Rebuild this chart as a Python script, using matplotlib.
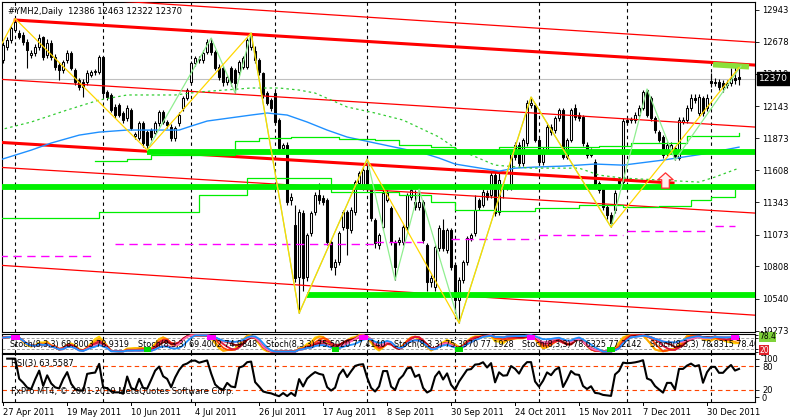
import matplotlib
matplotlib.use("Agg")
import matplotlib.pyplot as plt
from matplotlib.path import Path
import numpy as np
import pandas as pd

# ---- daily bars (#YMH2) ----
opens = [12526, 12635, 12693, 12776, 12751, 12734, 12676, 12568, 12585, 12635,
         12718, 12568, 12668, 12551, 12485, 12443, 12526, 12585, 12443, 12360,
         12343, 12343, 12401, 12426, 12426, 12551, 12260, 12235, 12135, 12151,
         12085, 12043, 12110, 11893, 11876, 12001, 11926, 11943, 11918, 12001,
         12093, 12010, 11968, 11876, 12001, 12126, 12210, 12343, 12501, 12526,
         12526, 12593, 12668, 12593, 12468, 12460, 12343, 12460, 12443, 12426,
         12468, 12468, 12635, 12600, 12526, 12418, 12251, 12193, 12251, 12026,
         11793, 11818, 11360, 11152, 10719, 11252, 10719, 11085, 11260, 11402,
         11377, 11360, 11010, 10802, 10843, 11135, 11260, 11110, 11260, 11502,
         11468, 11610, 11468, 11193, 10985, 11135, 11360, 11293, 11010, 11010,
         11010, 11135, 11385, 11343, 11302, 11343, 10985, 10677, 10635, 10960,
         11110, 10943, 11110, 10819, 10527, 10694, 10843, 11043, 11085, 11360,
         11318, 11418, 11402, 11568, 11260, 11485, 11460, 11460, 11818, 11818,
         11668, 11835, 12151, 12151, 11860, 11677, 11777, 11968, 11943, 12043,
         12110, 11718, 11860, 12126, 12068, 12051, 11818, 11735, 11677, 11502,
         11460, 11302, 11235, 11277, 11527, 11510, 12026, 12026, 12026, 12068,
         12126, 12276, 12210, 12043, 11926, 11885, 11751, 11777, 11793, 11710,
         12010, 12026, 12126, 12210, 12085, 12210, 12126, 12351, 12343, 12343,
         12335, 12318, 12335, 12376, 12386]
highs = [12680, 12720, 12810, 12870, 12780, 12760, 12700, 12610, 12660, 12740,
         12730, 12700, 12690, 12580, 12510, 12530, 12610, 12600, 12460, 12380,
         12370, 12440, 12445, 12450, 12570, 12560, 12280, 12250, 12160, 12170,
         12100, 12150, 12130, 11930, 12020, 12020, 11940, 11960, 12020, 12110,
         12110, 12030, 11990, 11980, 12090, 12230, 12295, 12520, 12560, 12560,
         12610, 12700, 12709, 12610, 12490, 12480, 12400, 12480, 12460, 12530,
         12560, 12710, 12751, 12640, 12540, 12430, 12270, 12210, 12270, 12040,
         11835, 11840, 11420, 11318, 11290, 11280, 11090, 11270, 11430, 11500,
         11400, 11380, 11030, 10870, 11100, 11280, 11280, 11300, 11530, 11600,
         11640, 11701, 11490, 11210, 11090, 11440, 11440, 11310, 11030, 11050,
         11150, 11420, 11470, 11440, 11450, 11360, 11000, 10740, 10990, 11150,
         11200, 11130, 11130, 10840, 10720, 10860, 11060, 11090, 11400, 11380,
         11450, 11440, 11590, 11600, 11600, 11510, 11490, 11780, 11840, 11840,
         11880, 12190, 12218, 12170, 11880, 11800, 11990, 11990, 12060, 12130,
         12130, 11880, 12130, 12160, 12090, 12070, 11840, 11790, 11700, 11520,
         11480, 11320, 11260, 11440, 11550, 12040, 12050, 12050, 12090, 12150,
         12280, 12285, 12230, 12060, 11940, 11900, 11840, 11840, 11810, 12050,
         12050, 12150, 12240, 12240, 12240, 12230, 12240, 12420, 12380, 12370,
         12360, 12360, 12460, 12470, 12463]
lows = [12500, 12610, 12670, 12760, 12700, 12650, 12460, 12540, 12560, 12610,
        12530, 12540, 12530, 12440, 12360, 12420, 12500, 12440, 12320, 12280,
        12220, 12320, 12385, 12405, 12410, 12230, 12190, 12090, 12040, 12050,
        12000, 12020, 11940, 11870, 11860, 11800, 11777, 11860, 11900, 11980,
        11990, 11960, 11850, 11850, 11980, 12100, 12190, 12330, 12480, 12500,
        12505, 12575, 12570, 12440, 12360, 12310, 12320, 12310, 12251, 12400,
        12450, 12450, 12610, 12500, 12400, 12210, 12150, 12100, 11990, 11770,
        11770, 11320, 11320, 10680, 10419, 10600, 10690, 11060, 11240, 11330,
        11320, 10990, 10780, 10740, 10820, 11110, 10900, 11090, 11240, 11480,
        11440, 11440, 11190, 10960, 10950, 11110, 11340, 10990, 10694, 10990,
        10990, 11110, 11360, 11280, 11280, 11000, 10600, 10640, 10600, 10940,
        10940, 10920, 10780, 10420, 10336, 10670, 10820, 11020, 11060, 11280,
        11300, 11360, 11380, 11230, 11240, 11380, 11440, 11440, 11690, 11640,
        11640, 11810, 12130, 11840, 11650, 11650, 11760, 11900, 11920, 12020,
        11700, 11700, 11840, 12030, 12020, 11810, 11710, 11720, 11460, 11420,
        11280, 11200, 11135, 11250, 11480, 11490, 11990, 12000, 12000, 12050,
        12110, 12050, 12020, 11920, 11840, 11710, 11730, 11760, 11693, 11690,
        11990, 12000, 12100, 12170, 12060, 12060, 12100, 12300, 12310, 12280,
        12260, 12290, 12310, 12330, 12322]
closes = [12651, 12693, 12793, 12840, 12718, 12676, 12610, 12585, 12635, 12709,
          12551, 12668, 12551, 12468, 12443, 12510, 12585, 12460, 12343, 12301,
          12301, 12418, 12426, 12430, 12551, 12251, 12218, 12110, 12068, 12068,
          12026, 12126, 11960, 11910, 12001, 11835, 11818, 11885, 12001, 12093,
          12010, 11985, 11876, 11960, 12068, 12210, 12276, 12501, 12543, 12530,
          12585, 12676, 12593, 12460, 12385, 12343, 12385, 12343, 12335, 12510,
          12543, 12693, 12734, 12526, 12426, 12235, 12168, 12126, 12010, 11793,
          11818, 11343, 11385, 10710, 11260, 10710, 11068, 11252, 11402, 11360,
          11343, 11010, 10802, 10843, 11085, 11260, 11127, 11277, 11510, 11585,
          11610, 11468, 11210, 11002, 11068, 11418, 11418, 11010, 10802, 11027,
          11135, 11402, 11443, 11302, 11343, 11027, 10677, 10710, 10968, 11127,
          10960, 11110, 10802, 10527, 10694, 10843, 11043, 11068, 11277, 11302,
          11427, 11385, 11568, 11252, 11527, 11460, 11468, 11751, 11718, 11668,
          11860, 12168, 12168, 11860, 11677, 11777, 11968, 11926, 12043, 12110,
          11718, 11860, 12110, 12051, 12043, 11835, 11735, 11760, 11485, 11443,
          11302, 11235, 11168, 11418, 11502, 12018, 12010, 12030, 12068, 12126,
          12260, 12068, 12043, 11943, 11860, 11735, 11818, 11818, 11710, 12026,
          12026, 12126, 12210, 12193, 12218, 12085, 12210, 12335, 12335, 12301,
          12301, 12335, 12376, 12360, 12370]

dates = pd.bdate_range("2011-04-27", "2012-01-31")
dates = dates[dates != pd.Timestamp("2011-12-26")][:len(closes)]

price_ticks = [12943, 12678, 12410, 12143, 11873, 11608, 11343, 11073, 10808, 10540, 10273]

# zigzag turning points (bar index, price)
zigzag_main = [(-1, 12620), (3, 12870), (36, 11777), (62, 12751), (74, 10419),
               (91, 11701), (114, 10336), (132, 12218), (152, 11135), (184, 12463)]
zigzag_fast = [(36, 11777), (52, 12709), (58, 12251), (62, 12751), (74, 10419),
               (91, 11701), (98, 10694), (104, 11450), (114, 10336), (132, 12218),
               (152, 11135), (161, 12285), (168, 11693), (184.5, 12476)]

# channel lines: (start idx, start price, end idx, end price)
red_thin = [(-1, 13081, 188, 12674), (-1, 12366, 188, 11968),
            (-1, 11633, 188, 11252), (-1, 10818, 188, 10402)]
red_thick = [(3, 12859, 188, 12484), (-1, 11841, 167.5, 11502)]
green_levels = [(36, 188, 11764), (-1, 188, 11473), (76, 188, 10573)]
lime_short = (177.5, 12488, 186.5, 12470)

ma_blue = [(-1, 11693), (7, 11776), (12, 11835), (19, 11901), (24, 11926), (31, 11943),
           (44, 11943), (47, 11976), (51, 12018), (62, 12068), (66, 12085), (71, 12068),
           (76, 12010), (81, 11943), (86, 11885), (93, 11835), (99, 11793), (105, 11751),
           (109, 11710), (113, 11660), (124, 11601), (128, 11626), (133, 11635),
           (140, 11643), (148, 11660), (155, 11651), (165, 11693), (175, 11743), (184, 11801)]
ma_dash = [(-1, 11943), (7, 12010), (16, 12110), (24, 12193), (31, 12235), (43, 12235),
           (49, 12260), (62, 12293), (69, 12293), (74, 12276), (78, 12251), (86, 12135),
           (93, 12085), (100, 12026), (109, 11885), (113, 11793), (123, 11651), (132, 11626),
           (144, 11626), (149, 11568), (155, 11543), (174, 11510), (178, 11552), (184, 11626)]
band_up = [(23, 11685), (31, 11701), (37, 11735), (58, 11851), (64, 11876), (72, 11885),
           (84, 11868), (93, 11860), (99, 11818), (107, 11801), (113, 11776), (124, 11801),
           (136, 11801), (149, 11810), (157, 11835), (171, 11893), (184, 11918)]
band_low = [(-1, 11210), (24, 11260), (49, 11402), (61, 11543), (72, 11543),
            (82, 11427), (93, 11427), (99, 11402), (107, 11343), (113, 11277),
            (123, 11268), (133, 11293), (144, 11318), (155, 11302), (164, 11310),
            (172, 11360), (177, 11385), (183, 11443)]
magenta_steps = [(-1, 23, 10893), (28, 93, 10993), (93, 105, 11010), (112, 133, 11035),
                 (134, 155, 11068), (156, 176, 11102), (178, 183, 11143)]
arrow_pt = (165.5, 11530)

tops = [3, 52, 90, 132, 183]
bottoms = [36, 83, 114, 152]

stoch_labels = ["Stoch(8,3,3) 68.8003 78.9319", "Stoch(8,3,3) 69.4002 74.9848",
                "Stoch(8,3,3) 75.5020 77.4140", "Stoch(8,3,3) 75.3970 77.1928",
                "Stoch(8,3,3) 78.6325 77.2142", "Stoch(8,3,3) 78.8315 78.4031"]
rsi_label = "RSI(3) 63.5587"

# ---- indicators derived from the bars ----
o = np.array(opens, float); h = np.array(highs, float)
l = np.array(lows, float); c = np.array(closes, float)
idx = np.arange(len(c))

delta = np.diff(c, prepend=np.nan)
up = pd.Series(np.clip(delta, 0, None)).ewm(alpha=1/3, adjust=False).mean()
dn = pd.Series(np.clip(-delta, 0, None)).ewm(alpha=1/3, adjust=False).mean()
rsi = (100 * up / (up + dn)).values

def stoch(k, sm):
    hh = pd.Series(h).rolling(k, min_periods=1).max()
    ll = pd.Series(l).rolling(k, min_periods=1).min()
    kk = 100 * (pd.Series(c) - ll) / (hh - ll)
    return kk.rolling(sm, min_periods=1).mean().values

# ---- figure ----
W, H = 790, 418
fig = plt.figure(figsize=(W / 100, H / 100), dpi=100)
plt.rcParams['font.family'] = ['DejaVu Sans']
L, R = 2 / W, 755 / W
ax = fig.add_axes([L, 1 - 332 / H, R - L, 330 / H])
axs = fig.add_axes([L, 1 - 353 / H, R - L, 19 / H])
axr = fig.add_axes([L, 1 - 402 / H, R - L, 48 / H])
xlim = (-0.3, 188)
fs = 6

for a in (ax, axs, axr):
    a.set_xlim(*xlim)
    a.set_xticks([])
    for s in a.spines.values():
        s.set_linewidth(0.8)
    a.yaxis.tick_right()
    a.tick_params(axis='y', length=3, width=0.6, labelsize=fs, pad=2)

# month separators
months = pd.Series(dates.month)
seps = idx[(months != months.shift()).values][1:]
for a in (ax, axs, axr):
    for s in seps:
        a.axvline(s, color='black', lw=0.8, ls=(0, (3, 3)), zorder=1)

# candles
up_m = c >= o
ax.vlines(idx, l, h, color='black', lw=0.8, zorder=3)
ax.bar(idx, np.abs(c - o) + 4, bottom=np.minimum(o, c) - 2, width=0.65,
       color=np.where(up_m, 'white', 'black'), edgecolor='black', lw=0.75, zorder=4)

ax.axhline(c[-1], color='#C0C0C0', lw=0.8, zorder=2)

# objects
for x0, y0, x1, y1 in red_thin:
    ax.plot([x0, x1], [y0, y1], color='#FF0000', lw=0.9, zorder=5)
for x0, y0, x1, y1 in red_thick:
    ax.plot([x0, x1], [y0, y1], color='#FF0000', lw=2.2, zorder=5)
for x0, x1, y in green_levels:
    ax.plot([x0, x1], [y, y], color='#00F000', lw=4.2, solid_capstyle='butt', zorder=6)
ax.plot(lime_short[::2], lime_short[1::2], color='#8BE03A', lw=4, solid_capstyle='butt', zorder=6)

bx, by = zip(*ma_blue)
ax.plot(bx, by, color='#1E90FF', lw=1.0, zorder=5)
dx, dy = zip(*ma_dash)
ax.plot(dx, dy, color='#32CD32', lw=0.9, ls=(0, (2, 2.5)), zorder=5)
ux, uy = zip(*band_up)
ax.plot(ux, uy, color='#00EE00', lw=0.9, drawstyle='steps-post', zorder=5)
lx, ly = zip(*band_low)
ax.plot(lx, ly, color='#00EE00', lw=0.9, drawstyle='steps-post', zorder=5)
for x0, x1, y in magenta_steps:
    ax.plot([x0, x1], [y, y], color='#FF00FF', lw=1.0, ls=(0, (6, 4)), zorder=5)

zx, zy = zip(*zigzag_fast)
ax.plot(zx, zy, color='#90EE90', lw=0.9, zorder=6)
zx, zy = zip(*zigzag_main)
ax.plot(zx, zy, color='#FFD700', lw=0.9, zorder=6)

arrow = Path([(-0.5, -1), (0.5, -1), (0.5, 0.1), (1, 0.1), (0, 1), (-1, 0.1), (-0.5, 0.1), (-0.5, -1)],
             [1, 2, 2, 2, 2, 2, 2, 79])
ax.plot([arrow_pt[0]], [arrow_pt[1]], marker=arrow, ms=11, mfc='#FFF0F0', mec='#FF3030', mew=0.9, zorder=7)

ax.set_ylim(10262, 13009)
ax.set_yticks(price_ticks)
ax.set_yticklabels([str(t) for t in price_ticks])
ax.annotate(f"{int(c[-1])}", xy=(1.0, c[-1]), xycoords=('axes fraction', 'data'),
            xytext=(3, 0), textcoords='offset points', va='center', ha='left',
            fontsize=fs + 0.6, color='white',
            bbox=dict(boxstyle='square,pad=0.2', fc='black', ec='black'))
ax.text(0.008, 0.985, "#YMH2,Daily  12386 12463 12322 12370", transform=ax.transAxes,
        fontsize=fs, va='top', ha='left')

# stochastic panel
st_cols = ['#FFD700', '#FFA500', '#FF4500', '#DC143C', '#8B0000', '#FF69B4', '#1E90FF']
for k, col in zip([5, 6, 8, 10, 13, 16, 21], st_cols):
    axs.plot(idx, stoch(k, 3), color=col, lw=1.3, zorder=3)
for lev in (20, 80):
    axs.axhline(lev, color='#A0A0A0', lw=0.7, ls=(0, (3, 2)), zorder=2)
for t in tops:
    axs.bar(t, 30, bottom=72, width=2.2, color='#FF00FF', zorder=4)
for b in bottoms:
    axs.bar(b, 30, bottom=-2, width=1.8, color='#00DD00', zorder=4)
axs.set_ylim(-5, 105)
for j, txt in enumerate(stoch_labels):
    axs.text(8 / 753 + j * 128 / 753, 0.45, txt, transform=axs.transAxes, fontsize=5.8,
             va='center', ha='left', zorder=6, clip_on=True)
axs.set_yticks([100, 80, 20, 0])
axs.set_yticklabels(['100', '80', '20', '0'], fontsize=fs - 0.5)
axs.tick_params(axis='y', length=2, pad=1)
axs.annotate("78.4", xy=(1.0, 80), xycoords=('axes fraction', 'data'), xytext=(3, 1),
             textcoords='offset points', va='center', ha='left', fontsize=fs - 0.5, color='black',
             bbox=dict(boxstyle='square,pad=0.05', fc='#7FD23A', ec='none'), annotation_clip=False)
axs.annotate("20", xy=(1.0, 20), xycoords=('axes fraction', 'data'), xytext=(3, -1),
             textcoords='offset points', va='center', ha='left', fontsize=fs - 0.5, color='white',
             bbox=dict(boxstyle='square,pad=0.05', fc='#E0202A', ec='none'), annotation_clip=False)

# RSI panel
axr.plot(idx, rsi, color='black', lw=1.5, zorder=3)
for lev in (20, 80):
    axr.axhline(lev, color='#FF4500', lw=0.8, ls=(0, (4, 3)), zorder=2)
axr.set_ylim(-12, 112)
axr.set_yticks([100, 80, 20, 0])
axr.set_yticklabels(['100', '80', '20', '0'])
axr.text(0.012, 0.80, rsi_label, transform=axr.transAxes, fontsize=fs, va='center')
axr.text(0.012, 0.22, "FxPro MT4, \u00a9 2001-2010 MetaQuotes Software Corp.", transform=axr.transAxes,
         fontsize=fs, va='center')

# date axis below RSI panel
for i in range(0, len(dates), 16):
    axr.plot([i, i], [-12, -20], color='black', lw=0.7, clip_on=False)
    axr.annotate(f"{dates[i].day} {dates[i]:%b %Y}", xy=(i, 0), xycoords=('data', 'axes fraction'),
                 xytext=(0, -4), textcoords='offset points', ha='left', va='top', fontsize=fs,
                 annotation_clip=False)

fig.savefig("out.png", dpi=100, facecolor='white')
